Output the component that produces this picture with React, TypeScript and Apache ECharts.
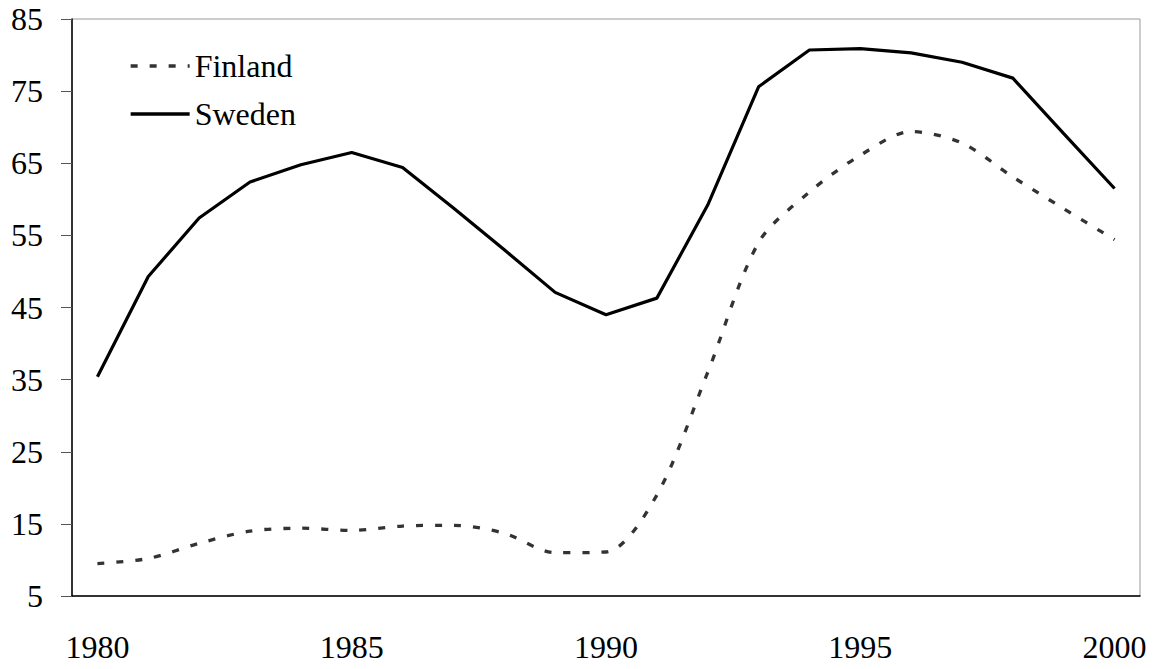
import { useEffect, useRef } from "react";
import * as echarts from "echarts";

const years = [
  "1980", "1981", "1982", "1983", "1984", "1985", "1986", "1987", "1988", "1989", "1990",
  "1991", "1992", "1993", "1994", "1995", "1996", "1997", "1998", "1999", "2000",
];
const finland = [
  9.5, 10.2, 12.3, 14.0, 14.4, 14.1, 14.7, 14.8, 13.7, 11.0, 11.1,
  19.0, 36.0, 54.0, 61.0, 66.1, 69.4, 67.8, 63.1, 58.7, 54.4,
];
const sweden = [
  35.4, 49.3, 57.4, 62.4, 64.8, 66.5, 64.4, 58.8, 53.0, 47.1, 44.0,
  46.3, 59.2, 75.6, 80.7, 80.9, 80.3, 79.0, 76.8, 69.1, 61.5,
];
const seriesNames = ["Finland", "Sweden"];

const font = '"Liberation Serif", "Times New Roman", serif';

export default function App() {
  const chartRef = useRef<HTMLDivElement>(null);

  useEffect(() => {
    document.body.style.margin = "0";
    if (!chartRef.current) return;
    const chart = echarts.init(chartRef.current, null, { renderer: "svg" });
    chart.setOption({
      animation: false,
      backgroundColor: "#fff",
      textStyle: { fontFamily: font },
      grid: {
        top: 19,
        left: 72,
        right: 14,
        bottom: 73,
        show: true,
        borderColor: "#999",
        borderWidth: 1,
      },
      legend: {
        orient: "vertical",
        left: 124,
        top: 45,
        itemWidth: 59,
        itemHeight: 14,
        itemGap: 16,
        data: seriesNames,
        itemStyle: { opacity: 0 },
        lineStyle: { width: 3.3 },
        textStyle: { fontFamily: font, fontSize: 32, color: "#000" },
      },
      xAxis: {
        type: "category",
        data: years,
        boundaryGap: true,
        axisLine: { lineStyle: { color: "#000", width: 1.5 } },
        axisTick: { interval: 0, length: 10, lineStyle: { color: "#444" } },
        axisLabel: {
          interval: 4,
          margin: 35,
          fontFamily: font,
          fontSize: 32,
          color: "#000",
        },
        splitLine: { show: false },
      },
      yAxis: {
        type: "value",
        min: 5,
        max: 85,
        interval: 10,
        axisLine: { show: true, lineStyle: { color: "#000", width: 1.5 } },
        axisTick: { show: true, length: 11, lineStyle: { color: "#555" } },
        axisLabel: { margin: 29, fontFamily: font, fontSize: 32, color: "#000" },
        splitLine: { show: false },
      },
      series: [
        {
          name: seriesNames[0],
          type: "line",
          data: finland,
          smooth: 0.3,
          symbol: "none",
          lineStyle: { color: "#333", width: 3.3, type: [7, 12] },
          itemStyle: { color: "#333" },
        },
        {
          name: seriesNames[1],
          type: "line",
          data: sweden,
          symbol: "none",
          lineStyle: { color: "#000", width: 3.2 },
          itemStyle: { color: "#000" },
        },
      ],
    });
    return () => chart.dispose();
  }, []);

  return <div ref={chartRef} style={{ width: 1154, height: 669 }} />;
}
